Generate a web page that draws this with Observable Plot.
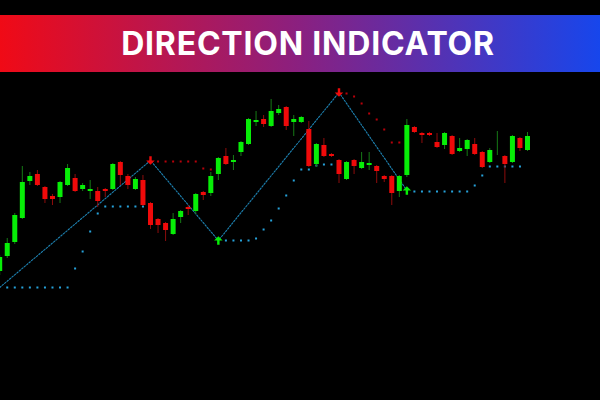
<!DOCTYPE html>
<html>
<head>
<meta charset="utf-8">
<script src="https://cdn.jsdelivr.net/npm/d3@7"></script>
<script src="https://cdn.jsdelivr.net/npm/@observablehq/plot@0.6"></script>
<style>
  html, body { margin: 0; padding: 0; background: #000; }
  #page { position: relative; width: 600px; height: 400px; overflow: hidden; background: #000; }
  #chart { position: absolute; left: 0; top: 0; }
  #banner {
    position: absolute; left: 0; top: 15px; width: 600px; height: 57px;
    background: linear-gradient(90deg, #f00a16 0%, #8a2080 50%, #1746ec 100%);
    display: flex; align-items: center; justify-content: center;
  }
  #banner h1 {
    margin: 0 0 0 16px; color: #fff; font-family: Inter, "Open Sans", sans-serif;
    font-weight: 700; font-size: 32px; letter-spacing: 0.8px; line-height: 1;
  }
</style>
</head>
<body>
<div id="page">
  <div id="chart"></div>
  <div id="banner"><h1>DIRECTION INDICATOR</h1></div>
</div>
<script>
// OHLC prices, one entry per bar
const open  = [1.2029,1.2044,1.2058,1.2082,1.2119,1.2126,1.2113,1.2104,1.2103,1.2115,
               1.2122,1.2111,1.2109,1.2109,1.2111,1.2111,1.2138,1.2124,1.2111,1.2120,
               1.2097,1.2081,1.2077,1.2066,1.2083,1.2093,1.2089,1.2108,1.2107,1.2126,
               1.2144,1.2138,1.2148,1.2156,1.2178,1.2181,1.2174,1.2187,1.2193,1.2178,
               1.2178,1.2171,1.2136,1.2155,1.2146,1.2140,1.2121,1.2140,1.2132,1.2135,
               1.2134,1.2124,1.2124,1.2109,1.2125,1.2173,1.2167,1.2167,1.2158,1.2155,
               1.2164,1.2149,1.2151,1.2156,1.2148,1.2138,1.2157,1.2144,1.2138,1.2162,
               1.2150];
const high  = [1.2045,1.2062,1.2087,1.2134,1.2128,1.2130,1.2114,1.2106,1.2119,1.2136,
               1.2126,1.2117,1.2120,1.2113,1.2112,1.2137,1.2139,1.2126,1.2123,1.2125,
               1.2098,1.2082,1.2078,1.2087,1.2090,1.2095,1.2107,1.2109,1.2128,1.2143,
               1.2152,1.2145,1.2159,1.2182,1.2189,1.2185,1.2201,1.2195,1.2194,1.2185,
               1.2184,1.2179,1.2157,1.2162,1.2147,1.2141,1.2139,1.2141,1.2148,1.2148,
               1.2135,1.2125,1.2125,1.2125,1.2181,1.2174,1.2168,1.2168,1.2167,1.2168,
               1.2165,1.2162,1.2161,1.2162,1.2149,1.2152,1.2169,1.2145,1.2165,1.2163,
               1.2168];
const low   = [1.2025,1.2042,1.2056,1.2081,1.2115,1.2114,1.2097,1.2095,1.2097,1.2114,
               1.2108,1.2109,1.2101,1.2093,1.2103,1.2110,1.2115,1.2111,1.2110,1.2094,
               1.2071,1.2067,1.2059,1.2065,1.2077,1.2085,1.2086,1.2100,1.2104,1.2120,
               1.2135,1.2130,1.2144,1.2155,1.2174,1.2173,1.2173,1.2185,1.2170,1.2164,
               1.2177,1.2133,1.2133,1.2143,1.2143,1.2117,1.2120,1.2126,1.2131,1.2130,
               1.2117,1.2118,1.2095,1.2103,1.2123,1.2167,1.2157,1.2164,1.2152,1.2151,
               1.2145,1.2148,1.2144,1.2145,1.2132,1.2137,1.2145,1.2117,1.2137,1.2149,
               1.2149];
const close = [1.2043,1.2057,1.2085,1.2118,1.2124,1.2115,1.2101,1.2101,1.2118,1.2132,
               1.2109,1.2115,1.2111,1.2099,1.2109,1.2136,1.2125,1.2115,1.2121,1.2095,
               1.2075,1.2075,1.2070,1.2081,1.2089,1.2091,1.2106,1.2105,1.2124,1.2142,
               1.2136,1.2140,1.2158,1.2181,1.2180,1.2176,1.2189,1.2191,1.2174,1.2181,
               1.2183,1.2134,1.2156,1.2144,1.2144,1.2126,1.2138,1.2134,1.2138,1.2137,
               1.2129,1.2121,1.2107,1.2124,1.2175,1.2168,1.2165,1.2165,1.2153,1.2167,
               1.2146,1.2152,1.2160,1.2146,1.2133,1.2150,1.2157,1.2136,1.2164,1.2152,
               1.2164];

// Trailing support level (shown while the direction is up)
const support = [null,1.2013,1.2013,1.2013,1.2013,1.2013,1.2013,1.2013,1.2013,1.2013,
                 1.2032,1.2049,1.2069,1.2087,1.2094,1.2094,1.2094,1.2094,1.2094,1.2094,
                 null,null,null,null,null,null,null,null,null,null,
                 1.2060,1.2060,1.2060,1.2060,1.2062,1.2071,1.2080,1.2092,1.2105,1.2120,
                 1.2131,1.2131,1.2135,1.2136,1.2136,null,null,null,null,null,
                 null,null,null,null,null,1.2109,1.2109,1.2109,1.2109,1.2109,
                 1.2109,1.2109,1.2109,1.2115,1.2125,1.2134,1.2134,1.2134,1.2134,1.2134,
                 null];

// Trailing resistance level (shown while the direction is down)
const resistance = [null,null,null,null,null,null,null,null,null,null,
                    null,null,null,null,null,null,null,null,null,null,
                    null,1.2139,1.2139,1.2139,1.2139,1.2139,1.2139,1.2132,1.2131,null,
                    null,null,null,null,null,null,null,null,null,null,
                    null,null,null,null,null,null,1.2207,1.2204,1.2197,1.2187,
                    1.2181,1.2171,1.2158,1.2158,null,null,null,null,null,null,
                    null,null,null,null,null,null,null,null,null,null,
                    null];

// Direction swings: bar index and level
const swingBar   = [0, 20, 29, 45, 54];
const swingLevel = [1.2013, 1.2140, 1.2060, 1.2208, 1.2110];
const swingType  = ["start", "top", "bottom", "top", "bottom"];

const candles = d3.range(open.length).map(i => ({
  i, o: open[i], h: high[i], l: low[i], c: close[i], up: close[i] >= open[i]
}));
const supportPts = support.map((v, i) => ({i, v})).filter(d => d.v != null);
const resistancePts = resistance.map((v, i) => ({i, v})).filter(d => d.v != null);
const swings = swingBar.map((i, k) => ({i, v: swingLevel[k], type: swingType[k]}));

// Arrow symbols for signals
const arrowUp = {
  draw(ctx, size) {
    const s = Math.sqrt(size);
    ctx.moveTo(0, -s / 2);
    ctx.lineTo(s / 2, 0);
    ctx.lineTo(s / 7, 0);
    ctx.lineTo(s / 7, s / 2);
    ctx.lineTo(-s / 7, s / 2);
    ctx.lineTo(-s / 7, 0);
    ctx.lineTo(-s / 2, 0);
    ctx.closePath();
  }
};
const arrowDown = {
  draw(ctx, size) {
    const s = Math.sqrt(size);
    ctx.moveTo(0, s / 2);
    ctx.lineTo(s / 2, 0);
    ctx.lineTo(s / 7, 0);
    ctx.lineTo(s / 7, -s / 2);
    ctx.lineTo(-s / 7, -s / 2);
    ctx.lineTo(-s / 7, 0);
    ctx.lineTo(-s / 2, 0);
    ctx.closePath();
  }
};

const GREEN = "#07ee07", RED = "#f00a0a";
const GREEN_WICK = "#167a16", RED_WICK = "#8e0c0c";

const chart = Plot.plot({
  width: 600,
  height: 400,
  margin: 0,
  style: {background: "transparent"},
  x: {type: "linear", domain: [0, 70], range: [-0.8, 527], axis: null},
  y: {domain: [1.19, 1.23], range: [400, 0], axis: null},
  marks: [
    // zigzag connecting direction changes
    Plot.line(swings, {x: "i", y: "v", stroke: "#1d82b2", strokeWidth: 1.1, strokeDasharray: "1.6,1.6"}),
    // trailing levels
    Plot.dot(supportPts, {x: "i", y: "v", symbol: "square", r: 1.13, fill: "#26a2da", stroke: "none"}),
    Plot.dot(resistancePts, {x: "i", y: "v", symbol: "square", r: 1.13, fill: "#b8000a", stroke: "none"}),
    // candles: wicks then bodies
    Plot.ruleX(candles, {x: "i", y1: "l", y2: "h", stroke: d => d.up ? GREEN_WICK : RED_WICK, strokeWidth: 1}),
    Plot.ruleX(candles, {x: "i", y1: "o", y2: "c", stroke: d => d.up ? GREEN : RED, strokeWidth: 5, strokeLinecap: "butt"}),
    // signal arrows
    Plot.dot(swings.filter(d => d.type === "bottom"), {x: "i", y: "v", symbol: arrowUp, r: 4.8, fill: GREEN, stroke: "none"}),
    Plot.dot(swings.filter(d => d.type === "top"), {x: "i", y: "v", symbol: arrowDown, r: 4.8, fill: RED, stroke: "none"})
  ]
});
document.getElementById("chart").appendChild(chart);
</script>
</body>
</html>
